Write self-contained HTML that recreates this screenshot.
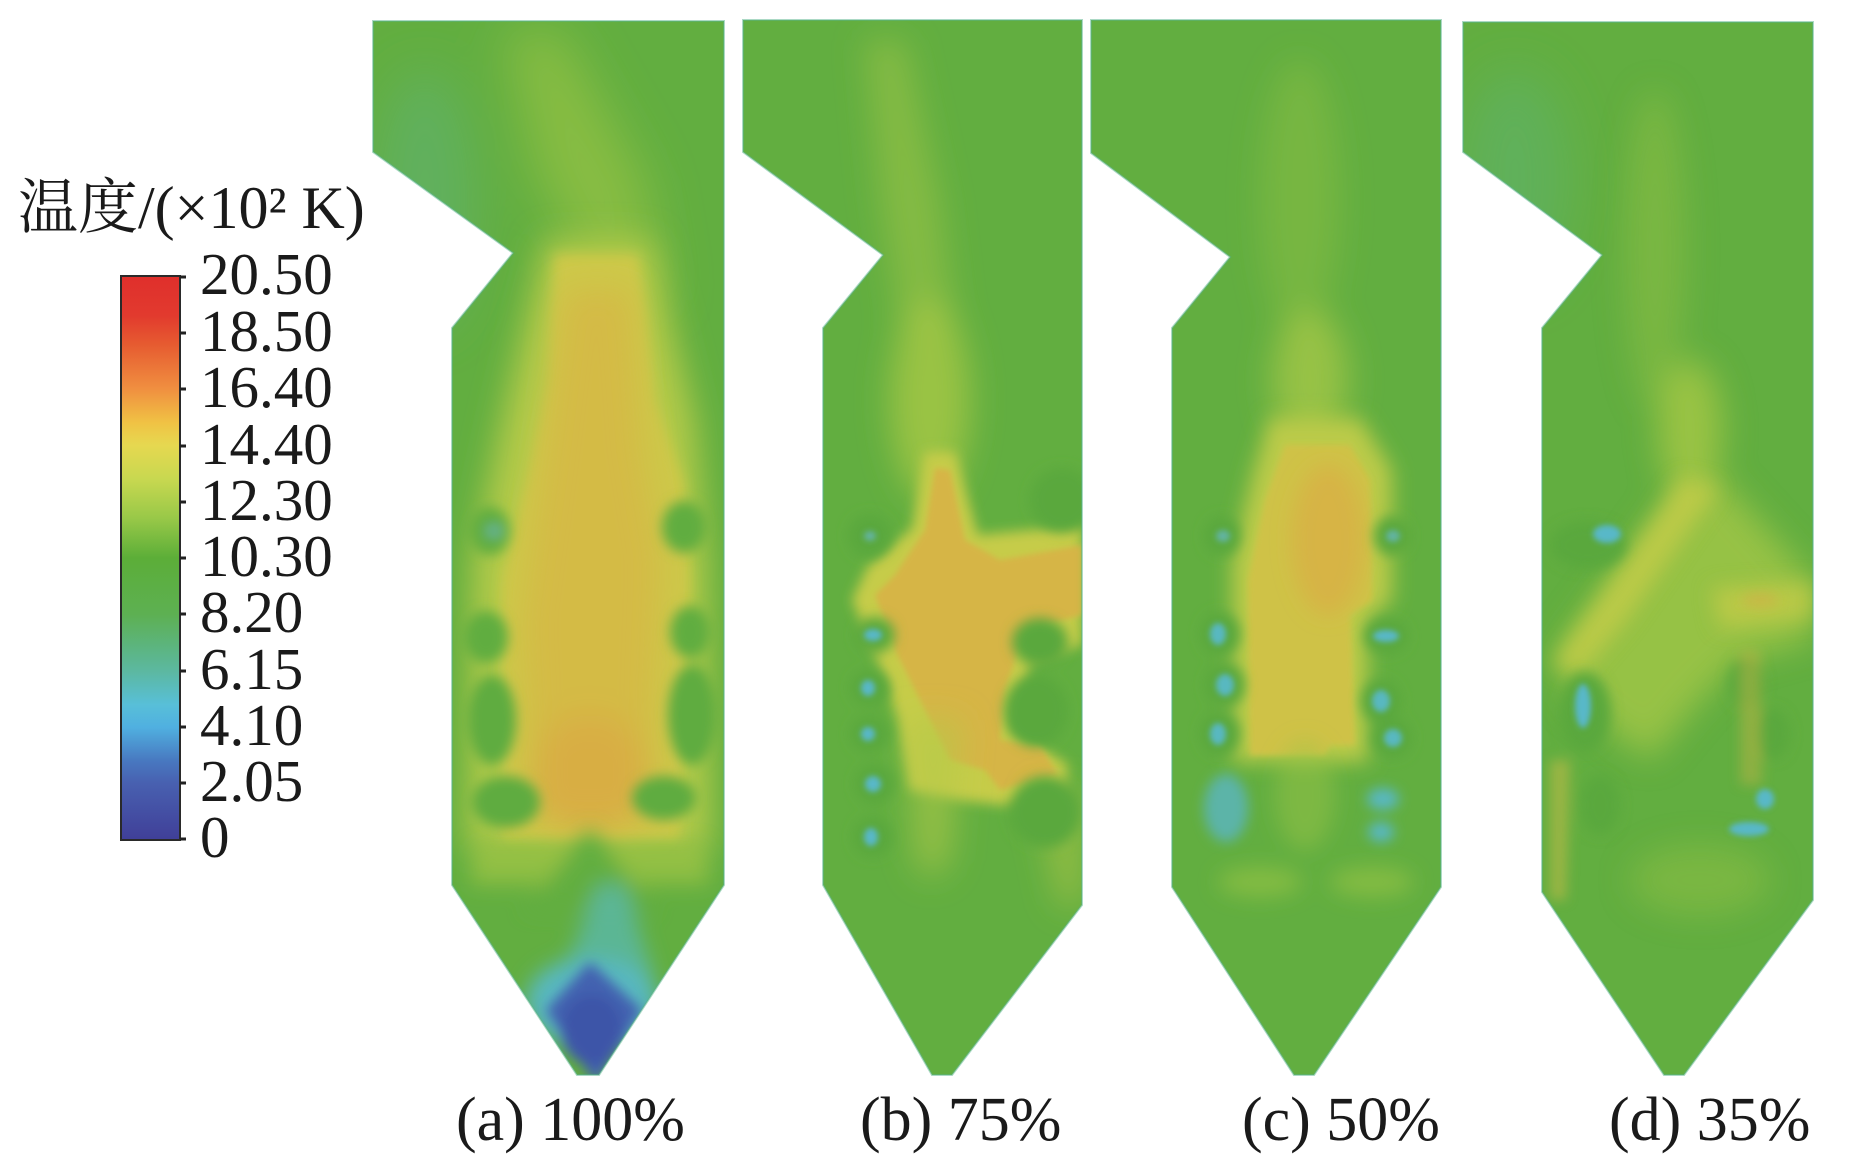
<!DOCTYPE html>
<html>
<head>
<meta charset="utf-8">
<style>
html,body{margin:0;padding:0;background:#fff;}
svg{display:block;}
</style>
</head>
<body>
<svg width="1850" height="1162" viewBox="0 0 1850 1162" xmlns="http://www.w3.org/2000/svg">
<defs>
  <clipPath id="ca"><path d="M373,21 L724,21 L724,885 L599,1075 L577,1075 L452,885 L452,328 L513,253 L373,152 Z"/></clipPath>
  <clipPath id="cb"><path d="M743,20 L1082,20 L1082,905 L952,1075 L932,1075 L823,885 L823,328 L883,255 L743,152 Z"/></clipPath>
  <clipPath id="cc"><path d="M1091,20 L1441,20 L1441,887 L1314,1075 L1294,1075 L1172,887 L1172,328 L1230,257 L1091,153 Z"/></clipPath>
  <clipPath id="cd"><path d="M1463,22 L1813,22 L1813,900 L1684,1075 L1664,1075 L1542,892 L1542,328 L1602,255 L1463,152 Z"/></clipPath>
  <filter id="b3" x="-50%" y="-50%" width="200%" height="200%"><feGaussianBlur stdDeviation="3"/></filter>
  <filter id="b6" x="-50%" y="-50%" width="200%" height="200%"><feGaussianBlur stdDeviation="6"/></filter>
  <filter id="b10" x="-50%" y="-50%" width="200%" height="200%"><feGaussianBlur stdDeviation="10"/></filter>
  <filter id="b16" x="-50%" y="-50%" width="200%" height="200%"><feGaussianBlur stdDeviation="16"/></filter>
  <filter id="b24" x="-50%" y="-50%" width="200%" height="200%"><feGaussianBlur stdDeviation="24"/></filter>
  <linearGradient id="cbar" x1="0" y1="0" x2="0" y2="1">
    <stop offset="0" stop-color="#df2f2c"/>
    <stop offset="0.07" stop-color="#e23a2e"/>
    <stop offset="0.12" stop-color="#e65a30"/>
    <stop offset="0.2" stop-color="#f08f40"/>
    <stop offset="0.26" stop-color="#f0c244"/>
    <stop offset="0.3" stop-color="#e6d850"/>
    <stop offset="0.36" stop-color="#c8d850"/>
    <stop offset="0.43" stop-color="#98c848"/>
    <stop offset="0.5" stop-color="#5cae38"/>
    <stop offset="0.6" stop-color="#5db052"/>
    <stop offset="0.7" stop-color="#5cb8a0"/>
    <stop offset="0.76" stop-color="#58bfd8"/>
    <stop offset="0.8" stop-color="#50b0e0"/>
    <stop offset="0.86" stop-color="#4878c0"/>
    <stop offset="0.9" stop-color="#4860b0"/>
    <stop offset="1" stop-color="#403f98"/>
  </linearGradient>
</defs>

<!-- ===== Panel (a) ===== -->
<g clip-path="url(#ca)">
  <rect x="360" y="0" width="380" height="1100" fill="#62ae40"/>
  <g filter="url(#b24)">
    <ellipse cx="425" cy="200" rx="50" ry="130" fill="#5db380" opacity="0.45"/>
    <path d="M505,30 L560,30 L645,180 L665,300 L600,300 L535,170 Z" fill="#a6c845" opacity="0.55"/>
  </g>
  <g filter="url(#b16)">
    <path d="M545,240 L650,240 L695,420 L708,560 L712,850 L466,850 L472,560 L502,420 Z" fill="#b4ca48"/>
  </g>
  <g filter="url(#b6)">
    <path d="M555,255 L638,255 L655,400 L683,480 L690,580 L680,838 L502,838 L502,580 L530,470 L550,380 Z" fill="#cdc848"/>
  </g>
  <g filter="url(#b16)">
    <path d="M565,290 L630,290 L642,450 L660,560 L650,825 L532,825 L522,620 L545,450 Z" fill="#d6b846" opacity="0.8"/>
    <ellipse cx="590" cy="775" rx="60" ry="60" fill="#dca444" opacity="0.55"/>
  </g>
  <g filter="url(#b6)">
    <ellipse cx="490" cy="531" rx="20" ry="24" fill="#60ad40"/>
    <ellipse cx="486" cy="637" rx="22" ry="26" fill="#60ad40"/>
    <ellipse cx="492" cy="720" rx="24" ry="45" fill="#5fac40"/>
    <ellipse cx="506" cy="802" rx="34" ry="26" fill="#5fac40"/>
    <ellipse cx="684" cy="527" rx="22" ry="26" fill="#60ad40"/>
    <ellipse cx="690" cy="632" rx="20" ry="26" fill="#60ad40"/>
    <ellipse cx="692" cy="715" rx="24" ry="50" fill="#5fac40"/>
    <ellipse cx="664" cy="798" rx="32" ry="22" fill="#5fac40"/>
    <ellipse cx="494" cy="531" rx="8" ry="6" fill="#68b4a0"/>
  </g>
  <g filter="url(#b10)">
    <path d="M475,845 L705,845 L710,885 L470,885 Z" fill="#a8c846" opacity="0.6"/>
    <path d="M590,828 L655,910 L525,910 Z" fill="#62ae40"/>
    <path d="M598,885 L625,885 L655,980 L560,980 Z" fill="#5ab8b0" opacity="0.75"/>
    <ellipse cx="592" cy="1002" rx="66" ry="45" fill="#58b8c0"/>
  </g>
  <g filter="url(#b6)">
    <path d="M590,962 L642,1010 L596,1085 L546,1010 Z" fill="#4262b0"/>
    <ellipse cx="592" cy="1030" rx="30" ry="35" fill="#3e55a8"/>
  </g>
</g>

<!-- ===== Panel (b) ===== -->
<g clip-path="url(#cb)">
  <rect x="730" y="0" width="370" height="1100" fill="#62ae40"/>
  <g filter="url(#b16)">
    <path d="M865,40 L905,40 L940,200 L955,330 L900,330 L880,200 Z" fill="#a6c845" opacity="0.5"/>
    <ellipse cx="930" cy="400" rx="40" ry="100" fill="#a8c846" opacity="0.8"/>
  </g>
  <g filter="url(#b6)">
    <path d="M925,452 L955,452 L978,535 L1082,525 L1082,645 L1032,662 L1012,728 L1068,765 L1062,805 L1000,805 L960,800 L910,790 L898,720 L878,662 L852,600 L868,566 L912,528 Z" fill="#c6cc48"/>
  </g>
  <g filter="url(#b3)">
    <path d="M935,468 L950,470 L965,540 L1000,560 L1082,545 L1082,615 L1025,630 L1005,690 L1000,740 L1040,745 L1058,775 L1000,790 L985,770 L950,760 L920,700 L895,650 L875,595 L895,575 L925,530 Z" fill="#d8b246" opacity="0.9"/>
  </g>
  <g filter="url(#b16)">
    <path d="M905,720 L962,720 L950,860 L930,880 L915,860 Z" fill="#b4ca48" opacity="0.6"/>
    <path d="M1035,790 L1082,790 L1082,905 L1060,905 Z" fill="#c6cc48" opacity="0.5"/>
  </g>
  <g filter="url(#b6)">
    <ellipse cx="870" cy="536" rx="22" ry="22" fill="#5aa83e"/>
    <ellipse cx="875" cy="635" rx="20" ry="18" fill="#5aa83e"/>
    <ellipse cx="870" cy="688" rx="20" ry="18" fill="#5aa83e"/>
    <ellipse cx="870" cy="734" rx="20" ry="18" fill="#5aa83e"/>
    <ellipse cx="875" cy="784" rx="20" ry="20" fill="#5aa83e"/>
    <ellipse cx="873" cy="837" rx="20" ry="20" fill="#5aa83e"/>
    <ellipse cx="1040" cy="642" rx="28" ry="24" fill="#5aa83e"/>
    <ellipse cx="1036" cy="711" rx="32" ry="36" fill="#5aa83e"/>
    <ellipse cx="1045" cy="812" rx="36" ry="36" fill="#5aa83e"/>
    <ellipse cx="1062" cy="500" rx="32" ry="32" fill="#5aa83e"/>
  </g>
  <g filter="url(#b3)">
    <ellipse cx="873" cy="635" rx="9" ry="6" fill="#58b8c8"/>
    <ellipse cx="868" cy="688" rx="7" ry="8" fill="#58b8c8"/>
    <ellipse cx="868" cy="734" rx="7" ry="7" fill="#58b8c8"/>
    <ellipse cx="873" cy="784" rx="8" ry="8" fill="#58b8c8"/>
    <ellipse cx="871" cy="837" rx="7" ry="9" fill="#58b8c8"/>
    <ellipse cx="870" cy="536" rx="6" ry="5" fill="#64b4a0"/>
  </g>
</g>

<!-- ===== Panel (c) ===== -->
<g clip-path="url(#cc)">
  <rect x="1080" y="0" width="370" height="1100" fill="#62ae40"/>
  <g filter="url(#b16)">
    <ellipse cx="1300" cy="200" rx="40" ry="140" fill="#9ec645" opacity="0.35"/>
    <ellipse cx="1310" cy="380" rx="38" ry="70" fill="#a8c846" opacity="0.75"/>
  </g>
  <g filter="url(#b10)">
    <path d="M1270,418 L1360,418 L1392,470 L1392,600 L1368,620 L1368,762 L1232,762 L1232,560 L1254,470 Z" fill="#bccb48"/>
  </g>
  <g filter="url(#b3)">
    <path d="M1285,445 L1350,445 L1370,480 L1372,600 L1350,615 L1355,745 L1330,745 L1325,755 L1250,755 L1248,580 L1265,500 Z" fill="#cfc247"/>
  </g>
  <g filter="url(#b10)">
    <ellipse cx="1328" cy="540" rx="36" ry="75" fill="#dca844" opacity="0.55"/>
    <ellipse cx="1305" cy="795" rx="30" ry="55" fill="#9ec645" opacity="0.45"/>
    <ellipse cx="1260" cy="882" rx="42" ry="15" fill="#9ec645" opacity="0.55"/>
    <ellipse cx="1372" cy="882" rx="42" ry="15" fill="#9ec645" opacity="0.55"/>
  </g>
  <g filter="url(#b6)">
    <ellipse cx="1222" cy="536" rx="18" ry="20" fill="#5aa83e"/>
    <ellipse cx="1220" cy="634" rx="20" ry="22" fill="#5aa83e"/>
    <ellipse cx="1225" cy="685" rx="20" ry="22" fill="#5aa83e"/>
    <ellipse cx="1220" cy="734" rx="20" ry="22" fill="#5aa83e"/>
    <ellipse cx="1392" cy="536" rx="18" ry="20" fill="#5aa83e"/>
    <ellipse cx="1386" cy="636" rx="22" ry="18" fill="#5aa83e"/>
    <ellipse cx="1381" cy="701" rx="20" ry="22" fill="#5aa83e"/>
    <ellipse cx="1392" cy="738" rx="20" ry="20" fill="#5aa83e"/>
  </g>
  <g filter="url(#b3)">
    <ellipse cx="1223" cy="536" rx="7" ry="6" fill="#62b4a0"/>
    <ellipse cx="1218" cy="634" rx="8" ry="11" fill="#58b8c0"/>
    <ellipse cx="1225" cy="685" rx="9" ry="11" fill="#58b8c0"/>
    <ellipse cx="1218" cy="734" rx="8" ry="11" fill="#58b8c0"/>
    <ellipse cx="1393" cy="536" rx="7" ry="6" fill="#62b4a0"/>
    <ellipse cx="1386" cy="636" rx="13" ry="6" fill="#58b8c8"/>
    <ellipse cx="1381" cy="701" rx="9" ry="11" fill="#58b8c0"/>
    <ellipse cx="1393" cy="738" rx="9" ry="9" fill="#58b8c0"/>
  </g>
  <g filter="url(#b6)">
    <ellipse cx="1226" cy="808" rx="22" ry="34" fill="#5cb4a8"/>
    <ellipse cx="1383" cy="799" rx="16" ry="11" fill="#58b8c0"/>
    <ellipse cx="1381" cy="832" rx="13" ry="10" fill="#58b8c0"/>
  </g>
</g>

<!-- ===== Panel (d) ===== -->
<g clip-path="url(#cd)">
  <rect x="1450" y="0" width="380" height="1100" fill="#62ae40"/>
  <g filter="url(#b24)">
    <ellipse cx="1515" cy="180" rx="55" ry="110" fill="#5db380" opacity="0.4"/>
  </g>
  <g filter="url(#b16)">
    <ellipse cx="1655" cy="250" rx="30" ry="160" fill="#9ec645" opacity="0.4"/>
    <ellipse cx="1690" cy="430" rx="32" ry="70" fill="#a8c846" opacity="0.8"/>
    <path d="M1690,470 L1722,480 L1813,580 L1813,640 L1740,660 L1700,700 L1650,760 L1570,700 L1558,650 Z" fill="#a8c846" opacity="0.75"/>
    <ellipse cx="1700" cy="880" rx="70" ry="35" fill="#9ec645" opacity="0.4"/>
  </g>
  <g filter="url(#b10)">
    <path d="M1682,478 L1718,488 L1624,622 L1578,676 L1552,664 L1598,600 Z" fill="#c2cb48" opacity="0.85"/>
    <path d="M1712,588 L1813,582 L1813,618 L1720,628 Z" fill="#c2cb48" opacity="0.8"/>
  </g>
  <g filter="url(#b6)">
    <ellipse cx="1588" cy="545" rx="38" ry="24" fill="#5aa83e"/>
    <ellipse cx="1585" cy="712" rx="26" ry="40" fill="#5aa83e"/>
    <ellipse cx="1746" cy="683" rx="18" ry="25" fill="#5aa83e"/>
    <ellipse cx="1772" cy="734" rx="18" ry="25" fill="#5aa83e"/>
    <ellipse cx="1600" cy="805" rx="20" ry="30" fill="#5aa83e"/>
    <path d="M1740,650 L1760,650 L1762,785 L1740,785 Z" fill="#d0b446" opacity="0.4"/>
    <path d="M1550,760 L1570,760 L1566,900 L1550,900 Z" fill="#c8bc48" opacity="0.55"/>
    <ellipse cx="1760" cy="600" rx="18" ry="7" fill="#dca444" opacity="0.45"/>
  </g>
  <g filter="url(#b3)">
    <ellipse cx="1607" cy="534" rx="14" ry="9" fill="#58b8c8"/>
    <ellipse cx="1583" cy="706" rx="8" ry="22" fill="#58b8c8"/>
    <ellipse cx="1765" cy="799" rx="9" ry="10" fill="#58b8c8"/>
    <ellipse cx="1749" cy="829" rx="20" ry="7" fill="#58b8c8"/>
  </g>
</g>

<!-- thin outlines -->
<g fill="none" stroke="#58b38c" stroke-width="2" opacity="0.5">
  <path d="M373,21 L724,21 L724,885 L599,1075 L577,1075 L452,885 L452,328 L513,253 L373,152 Z"/>
  <path d="M743,20 L1082,20 L1082,905 L952,1075 L932,1075 L823,885 L823,328 L883,255 L743,152 Z"/>
  <path d="M1091,20 L1441,20 L1441,887 L1314,1075 L1294,1075 L1172,887 L1172,328 L1230,257 L1091,153 Z"/>
  <path d="M1463,22 L1813,22 L1813,900 L1684,1075 L1664,1075 L1542,892 L1542,328 L1602,255 L1463,152 Z"/>
</g>

<!-- ===== Colorbar ===== -->
<text x="18" y="228" font-size="60" font-family="'Liberation Serif','Noto Serif CJK SC',serif" fill="#1a1a1a">温度/(×10² K)</text>
<rect x="121" y="276" width="59" height="564" fill="url(#cbar)" stroke="#2a2a2a" stroke-width="2"/>
<g stroke="#222" stroke-width="3">
  <line x1="180" y1="277" x2="186" y2="277"/>
  <line x1="180" y1="333" x2="186" y2="333"/>
  <line x1="180" y1="389" x2="186" y2="389"/>
  <line x1="180" y1="446" x2="186" y2="446"/>
  <line x1="180" y1="502" x2="186" y2="502"/>
  <line x1="180" y1="558" x2="186" y2="558"/>
  <line x1="180" y1="614" x2="186" y2="614"/>
  <line x1="180" y1="671" x2="186" y2="671"/>
  <line x1="180" y1="727" x2="186" y2="727"/>
  <line x1="180" y1="783" x2="186" y2="783"/>
  <line x1="180" y1="839" x2="186" y2="839"/>
</g>
<g font-size="59" font-family="'Liberation Serif',serif" fill="#1a1a1a">
  <text x="200" y="294">20.50</text>
  <text x="200" y="351">18.50</text>
  <text x="200" y="407">16.40</text>
  <text x="200" y="464">14.40</text>
  <text x="200" y="520">12.30</text>
  <text x="200" y="576">10.30</text>
  <text x="200" y="632">8.20</text>
  <text x="200" y="689">6.15</text>
  <text x="200" y="745">4.10</text>
  <text x="200" y="801">2.05</text>
  <text x="200" y="857">0</text>
</g>

<!-- ===== Panel labels ===== -->
<g font-size="62" font-family="'Liberation Serif',serif" fill="#1a1a1a">
  <text x="456" y="1140">(a) 100%</text>
  <text x="860" y="1140">(b) 75%</text>
  <text x="1242" y="1140">(c) 50%</text>
  <text x="1609" y="1140">(d) 35%</text>
</g>
</svg>
</body>
</html>
